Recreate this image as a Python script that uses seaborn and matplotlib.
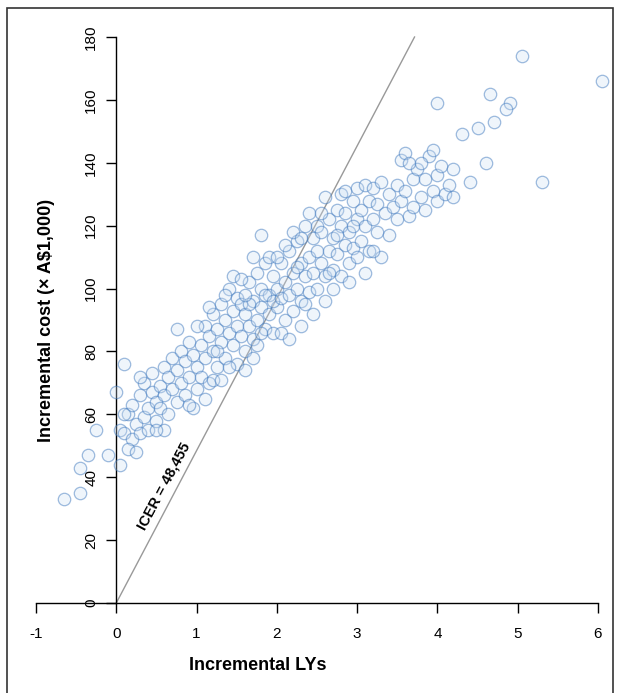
import matplotlib
matplotlib.use("Agg")
import matplotlib.pyplot as plt
from matplotlib.patches import Rectangle
import seaborn as sns
import pandas as pd

plt.rcParams["axes.unicode_minus"] = False

ICER = 48.455

# incremental life-years (x) and incremental cost in A$1,000 (y)
ly = [-0.65, -0.45, -0.45, -0.35, -0.25, -0.1, 0.05, 0.1, 0.0,
      0.05, 0.1, 0.15, 0.2, 0.2, 0.25, 0.3, 0.3, 0.35, 0.35, 0.4, 0.4, 0.45, 0.45, 0.5, 0.5, 0.15, 0.25, 0.1, 0.3,
      0.55, 0.55, 0.6, 0.6, 0.65, 0.65, 0.7, 0.7, 0.75, 0.75, 0.8, 0.8, 0.85, 0.85, 0.9, 0.9, 0.95, 0.95, 1.0, 1.0, 0.75, 0.9, 0.6, 0.5,
      1.05, 1.05, 1.1, 1.1, 1.15, 1.15, 1.2, 1.2, 1.25, 1.25, 1.3, 1.3, 1.35, 1.35, 1.4, 1.4, 1.45, 1.45, 1.5, 1.5, 1.1, 1.2, 1.3, 1.45, 1.0, 1.15, 1.35, 1.4, 1.25, 1.5,
      1.55, 1.55, 1.6, 1.6, 1.65, 1.65, 1.7, 1.7, 1.75, 1.75, 1.8, 1.8, 1.8, 1.85, 1.85, 1.9, 1.9, 1.95, 1.95, 2.0, 2.0, 1.6, 1.7, 1.55, 1.65, 1.75, 1.85, 1.9, 1.95, 1.6, 1.7, 1.8,
      2.05, 2.05, 2.1, 2.1, 2.15, 2.15, 2.2, 2.2, 2.25, 2.25, 2.3, 2.3, 2.35, 2.35, 2.4, 2.4, 2.45, 2.45, 2.5, 2.5, 2.05, 2.15, 2.2, 2.3, 2.4, 2.45, 2.1, 2.25, 2.35, 2.5, 2.0, 2.3,
      2.55, 2.55, 2.6, 2.6, 2.65, 2.65, 2.7, 2.7, 2.75, 2.75, 2.8, 2.8, 2.85, 2.85, 2.9, 2.9, 2.95, 2.95, 3.0, 3.0, 2.6, 2.7, 2.8, 2.9, 3.0, 2.55, 2.65, 2.75, 2.85, 2.95,
      3.05, 3.05, 3.1, 3.1, 3.15, 3.15, 3.2, 3.2, 3.25, 3.25, 3.3, 3.3, 3.35, 3.4, 3.4, 3.45, 3.5, 3.5, 3.55, 3.55, 3.6, 3.6, 3.1, 3.2,
      3.65, 3.7, 3.7, 3.75, 3.8, 3.85, 3.85, 3.9, 3.95, 3.95, 4.0, 4.0, 4.05, 4.1, 4.15, 4.2, 4.2, 3.65, 3.8, 4.0,
      4.65, 4.7, 4.9, 5.05, 5.3, 6.05, 4.6, 4.4, 4.3, 4.5, 4.85]
cost = [33, 35, 43, 47, 55, 47, 44, 76, 67,
        55, 54, 60, 52, 63, 57, 66, 54, 59, 70, 62, 55, 67, 73, 58, 64, 49, 48, 60, 72,
        69, 62, 75, 66, 72, 60, 78, 68, 64, 74, 80, 70, 66, 77, 83, 72, 62, 79, 75, 68, 87, 63, 55, 55,
        82, 72, 88, 78, 70, 85, 80, 92, 75, 87, 83, 95, 78, 90, 86, 100, 82, 93, 88, 76, 65, 71, 71, 104, 88, 94, 98, 75, 80, 97,
        85, 95, 92, 80, 102, 88, 96, 84, 105, 90, 94, 117, 100, 87, 108, 98, 92, 104, 86, 100, 94, 74, 78, 103, 95, 82, 98, 110, 96, 98, 110, 86,
        97, 108, 102, 90, 112, 98, 105, 93, 115, 100, 108, 96, 120, 104, 110, 99, 116, 105, 112, 100, 86, 84, 118, 88, 124, 92, 114, 107, 95, 120, 110, 116,
        108, 118, 104, 129, 112, 122, 106, 116, 125, 111, 120, 130, 114, 124, 108, 118, 128, 113, 122, 132, 96, 100, 104, 102, 110, 124, 105, 117, 131, 120,
        125, 115, 133, 120, 128, 112, 122, 132, 118, 127, 134, 110, 124, 130, 117, 126, 133, 122, 141, 128, 143, 131, 105, 112,
        123, 135, 126, 138, 129, 125, 135, 142, 131, 144, 136, 128, 139, 130, 133, 138, 129, 140, 140, 159,
        162, 153, 159, 174, 134, 166, 140, 134, 149, 151, 157]

df = pd.DataFrame({"ly": ly, "cost": cost})

fig = plt.figure(figsize=(6.23, 6.93), dpi=100)
W, H = 623, 693
ax = fig.add_axes([36 / W, 1 - 603 / H, (598 - 36) / W, (603 - 37) / H])
ax.patch.set_alpha(0)

sns.scatterplot(data=df, x="ly", y="cost", ax=ax, s=80, marker="o",
                facecolor=(0.80, 0.87, 0.95, 0.3), edgecolor=(0.25, 0.48, 0.75, 0.5),
                linewidth=0.9, clip_on=False, zorder=3)

ax.plot([0, 180 / ICER], [0, 180], color="#999999", lw=1, clip_on=False, zorder=2)
ax.text(0.6, 37, "ICER = 48,455", rotation=62, ha="center", va="center",
        fontsize=10.5, fontweight="bold", family="Liberation Sans")

ax.set_xlim(-1, 6)
ax.set_ylim(0, 180)
ax.set_xticks(range(-1, 7))
ax.set_yticks(range(0, 181, 20))
ax.spines["top"].set_visible(False)
ax.spines["right"].set_visible(False)
ax.spines["left"].set_position(("data", 0))
for s in ("left", "bottom"):
    ax.spines[s].set_linewidth(1)
ax.tick_params(direction="out", length=7, width=1, labelsize=11, pad=6)
ax.tick_params(axis="x", pad=10)
for lab in ax.get_yticklabels():
    lab.set_rotation(90)
    lab.set_va("center")
for lab in ax.get_xticklabels() + ax.get_yticklabels():
    lab.set_family("Liberation Sans")
ax.set_xlabel("")
ax.set_ylabel("")

fig.text(258 / W, 1 - 665 / H, "Incremental LYs", ha="center", va="center",
         fontsize=13, fontweight="bold", family="Liberation Sans")
fig.text(47 / W, 1 - 320 / H, "Incremental cost (× A$1,000)", rotation=90, ha="center",
         va="center", fontsize=13, fontweight="bold", family="Liberation Sans")

fig.patches.append(Rectangle((7 / W, -0.01), (613 - 7) / W, 1 - 8 / H + 0.01,
                             transform=fig.transFigure, fill=False, lw=1.2, ec="#333333"))

fig.savefig("out.png", dpi=100)
